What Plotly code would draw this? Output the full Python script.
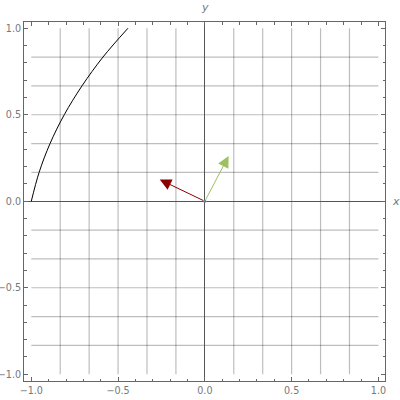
import plotly.graph_objects as go

# Curve
curve_y = [0.0, 1/6, 2/6, 0.5, 4/6, 5/6, 1.0]
curve_x = [-1.0, -0.955, -0.892, -0.810, -0.708, -0.587, -0.443]

# Vectors from origin
vec_red = (-0.26, 0.125)
vec_green = (0.137, 0.262)

grid_vals = [k / 6 for k in range(-5, 6) if k != 0]
tick_vals = [-1.0, -0.5, 0.0, 0.5, 1.0]
tick_text = ["\u22121.0", "\u22120.5", "0.0", "0.5", "1.0"]

fig = go.Figure()
fig.add_trace(go.Scatter(x=curve_x, y=curve_y, mode="lines",
                         line=dict(color="black", width=1, shape="spline", smoothing=1.0),
                         hoverinfo="skip", showlegend=False))
fig.add_trace(go.Scatter(x=[0], y=[0], mode="markers", marker=dict(color="#5E81B5", size=3),
                         showlegend=False, hoverinfo="skip"))

shapes = []
grid_color = "rgba(0,0,0,0.26)"
for g in grid_vals:
    shapes.append(dict(type="line", xref="x", yref="y", x0=g, x1=g, y0=-1, y1=1,
                       line=dict(color=grid_color, width=1.2), layer="below"))
    shapes.append(dict(type="line", xref="x", yref="y", x0=-1, x1=1, y0=g, y1=g,
                       line=dict(color=grid_color, width=1.2), layer="below"))

label_font = dict(family="DejaVu Sans", size=11, color="#777", style="italic")
annotations = []
for vec, col in [(vec_red, "#8B0000"), (vec_green, "#9DC060")]:
    annotations.append(dict(x=vec[0], y=vec[1], ax=0, ay=0, xref="x", yref="y", axref="x", ayref="y",
                            showarrow=True, arrowhead=2, arrowsize=2.3, arrowwidth=1, arrowcolor=col,
                            standoff=0, startstandoff=0, text=""))
annotations.append(dict(x=0, y=1.039, xref="x", yref="paper", text="y", showarrow=False,
                        font=label_font, xanchor="center", yanchor="middle"))
annotations.append(dict(x=1.031, y=0, xref="paper", yref="y", text="x", showarrow=False,
                        font=label_font, xanchor="center", yanchor="middle"))

axis_common = dict(
    showgrid=False, zeroline=True, zerolinecolor="#555", zerolinewidth=1,
    showline=True, linecolor="#666", linewidth=1, mirror="allticks",
    ticks="inside", ticklen=4, tickcolor="#666", tickwidth=1,
    tickvals=tick_vals, ticktext=tick_text, automargin=False,
    tickfont=dict(family="DejaVu Sans", size=9.6, color="#777"),
    minor=dict(ticks="inside", ticklen=2.5, tickcolor="#666", dtick=0.1, tick0=0, showgrid=False),
)

fig.update_layout(
    width=400, height=400,
    margin=dict(l=24, r=15, t=22, b=19, autoexpand=False),
    plot_bgcolor="white", paper_bgcolor="white",
    xaxis=dict(range=[-1.042, 1.038], **axis_common),
    yaxis=dict(range=[-1.039, 1.036], **axis_common),
    shapes=shapes, annotations=annotations,
)
fig.write_html("out.html", config={"displayModeBar": False},
               post_script="document.body.style.margin='0';")
